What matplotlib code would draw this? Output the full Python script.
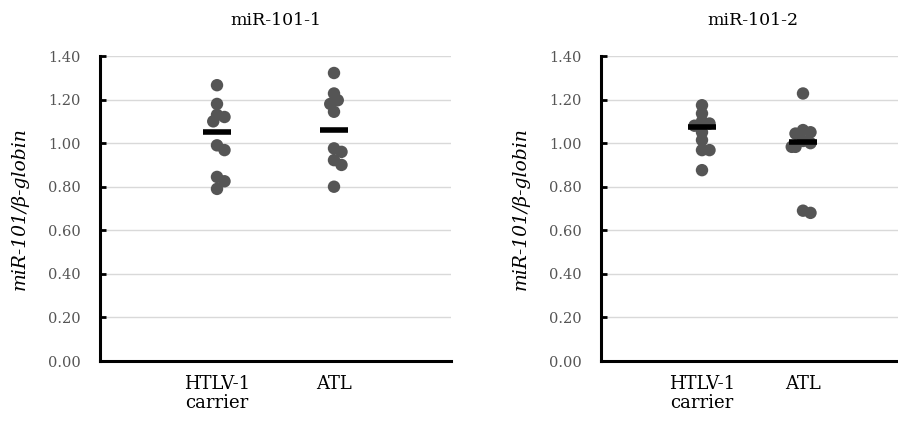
import numpy as np
import matplotlib
matplotlib.use("Agg")
import matplotlib.pyplot as plt

# values
groups = ["HTLV-1\ncarrier", "ATL"]
titles = ["miR-101-1", "miR-101-2"]

mir1_carrier = [1.266, 1.18, 1.13, 1.12, 1.10, 0.99, 0.968, 0.845, 0.825, 0.79]
mir1_atl = [1.322, 1.228, 1.197, 1.18, 1.144, 0.976, 0.96, 0.922, 0.90, 0.80]
mir2_carrier = [1.174, 1.136, 1.10, 1.09, 1.08, 1.05, 1.014, 0.968, 0.968, 0.876]
mir2_atl = [1.228, 1.06, 1.05, 1.044, 1.01, 1.00, 0.983, 0.983, 0.69, 0.68]

mir1_bars = [1.049, 1.06]
mir2_bars = [1.075, 1.006]

yticks = [0.0, 0.2, 0.4, 0.6, 0.8, 1.0, 1.2, 1.4]

DOT = "#555555"
SERIF = ["DejaVu Serif"]


def swarm_offsets(ax, x0, values, min_px):
    """spread overlapping dots sideways (display pixels)"""
    pts = ax.transData.transform([(x0, v) for v in values])
    ys = pts[:, 1]
    placed = []
    offs = np.zeros(len(values))
    order = np.argsort(-np.asarray(values))
    cands = [0, 0.5, -0.5, 1, -1, 1.5, -1.5]
    for i in order:
        for c in cands:
            dx = c * min_px
            ok = all((dx - px) ** 2 + (ys[i] - py) ** 2 >= min_px ** 2 for px, py in placed)
            if ok:
                break
        placed.append((dx, ys[i]))
        offs[i] = dx
    px_per_unit = ax.transData.transform((1, 0))[0] - ax.transData.transform((0, 0))[0]
    return x0 + offs / px_per_unit


def draw_panel(ax, title, series, bars):
    ax.set_xlim(0, 3)
    ax.set_ylim(0, 1.4)
    ax.set_yticks(yticks)
    ax.set_yticklabels([f"{t:.2f}" for t in yticks], family=SERIF, fontsize=10.5, color="#555555")
    ax.set_xticks([1, 2])
    ax.set_xticklabels(groups, family=SERIF, fontsize=13, linespacing=1.05)
    ax.tick_params(axis="y", direction="in", length=4, width=2, pad=14)
    ax.tick_params(axis="x", length=0, pad=10)
    ax.grid(axis="y", color="#d9d9d9", linewidth=1)
    ax.set_axisbelow(True)
    for s in ["top", "right"]:
        ax.spines[s].set_visible(False)
    for s in ["left", "bottom"]:
        ax.spines[s].set_linewidth(2.2)
        ax.spines[s].set_color("black")
    ax.set_title(title, family=SERIF, fontsize=12.5, pad=22)
    ax.set_ylabel("miR-101/β-globin", family=SERIF, style="italic", fontsize=13.5, labelpad=14)

    for i, vals in enumerate(series):
        xs = swarm_offsets(ax, i + 1, vals, 7.5)
        ax.scatter(xs, vals, s=80, color=DOT, edgecolors="none", zorder=3)
    ax.scatter([1, 2], bars, marker="_", s=420, linewidths=4, color="black", zorder=4)


fig = plt.figure(figsize=(8.98, 4.23), dpi=100)
ax1 = fig.add_axes([100 / 898, 62 / 423, 351 / 898, 305 / 423])
ax2 = fig.add_axes([601 / 898, 62 / 423, 303 / 898, 305 / 423])
draw_panel(ax1, titles[0], [mir1_carrier, mir1_atl], mir1_bars)
draw_panel(ax2, titles[1], [mir2_carrier, mir2_atl], mir2_bars)

fig.savefig("out.png", dpi=100)
